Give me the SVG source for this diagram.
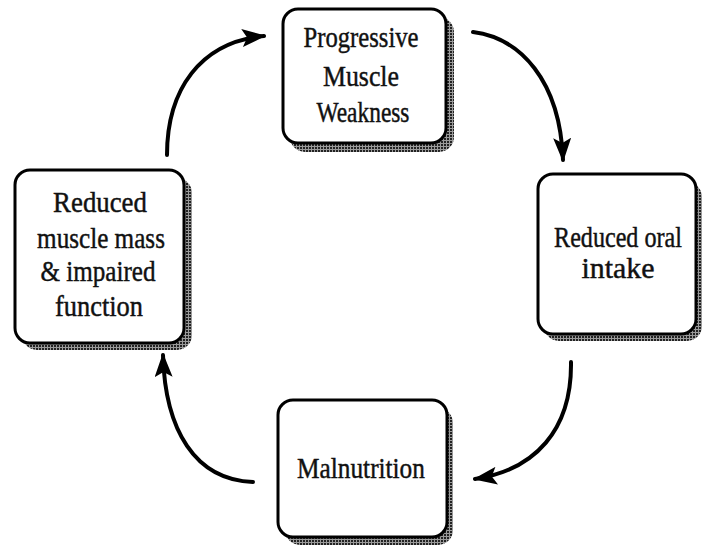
<svg xmlns="http://www.w3.org/2000/svg" width="703" height="547" viewBox="0 0 703 547">
<defs>
<pattern id="ht" width="3" height="3" patternUnits="userSpaceOnUse">
<rect width="3" height="3" fill="#9a9a9a"/>
<rect width="2" height="2" fill="#222"/>
</pattern>
<marker id="ah" viewBox="0 0 24 18" refX="22" refY="9" markerWidth="24" markerHeight="18" markerUnits="userSpaceOnUse" orient="auto">
<path d="M0,0 L24,9 L0,18 L5,9 Z" fill="#000"/>
</marker>
<style>
.sh{fill:url(#ht)}
.bx{fill:#fff;stroke:#000;stroke-width:3}
text{font-family:'Liberation Serif',serif;font-size:30px;fill:#111;text-anchor:middle;stroke:#111;stroke-width:0.45}
.c{fill:none;stroke:#000;stroke-width:4;stroke-linecap:round;marker-end:url(#ah)}
</style>
</defs>
<rect width="703" height="547" fill="#fff"/>
<g id="connectors">
<path class="c" d="M167,155 C167,90 200,42 264,36"/>
<path class="c" d="M473,32 C520,38 560,80 563,160"/>
<path class="c" d="M571,362 C572,430 535,470 475,479"/>
<path class="c" d="M253,482 C195,480 165,430 163,355"/>
</g>
<g id="node-weakness">
<rect class="sh" x="290" y="17" width="164" height="135" rx="15"/>
<rect class="bx" x="283" y="9" width="163" height="134" rx="15"/>
<g transform="translate(361,0) scale(0.83,1)">
<text x="0" y="47" textLength="138.6" lengthAdjust="spacingAndGlyphs">Progressive</text>
<text x="0" y="86" textLength="91.6" lengthAdjust="spacingAndGlyphs">Muscle</text>
<text x="2.4" y="122" textLength="112" lengthAdjust="spacingAndGlyphs">Weakness</text>
</g>
</g>
<g id="node-oral">
<rect class="sh" x="544" y="182" width="158" height="159" rx="15"/>
<rect class="bx" x="538" y="174" width="158" height="160" rx="15"/>
<g transform="translate(618,0) scale(0.83,1)">
<text x="0" y="247" textLength="154" lengthAdjust="spacingAndGlyphs">Reduced oral</text>
<text x="0" y="278" textLength="88" lengthAdjust="spacingAndGlyphs">intake</text>
</g>
</g>
<g id="node-malnutrition">
<rect class="sh" x="285" y="408" width="168" height="137" rx="15"/>
<rect class="bx" x="278" y="400" width="169" height="137" rx="15"/>
<g transform="translate(361,0) scale(0.83,1)">
<text x="0" y="478" textLength="154" lengthAdjust="spacingAndGlyphs">Malnutrition</text>
</g>
</g>
<g id="node-mass">
<rect class="sh" x="22" y="178" width="170" height="172" rx="15"/>
<rect class="bx" x="15" y="170" width="169" height="173" rx="15"/>
<g transform="translate(100,0) scale(0.83,1)">
<text x="0" y="212" textLength="113" lengthAdjust="spacingAndGlyphs">Reduced</text>
<text x="1.2" y="248" textLength="154" lengthAdjust="spacingAndGlyphs">muscle mass</text>
<text x="-2.4" y="281" textLength="138.6" lengthAdjust="spacingAndGlyphs">&amp; impaired</text>
<text x="-1.2" y="316" textLength="106" lengthAdjust="spacingAndGlyphs">function</text>
</g>
</g>
</svg>
